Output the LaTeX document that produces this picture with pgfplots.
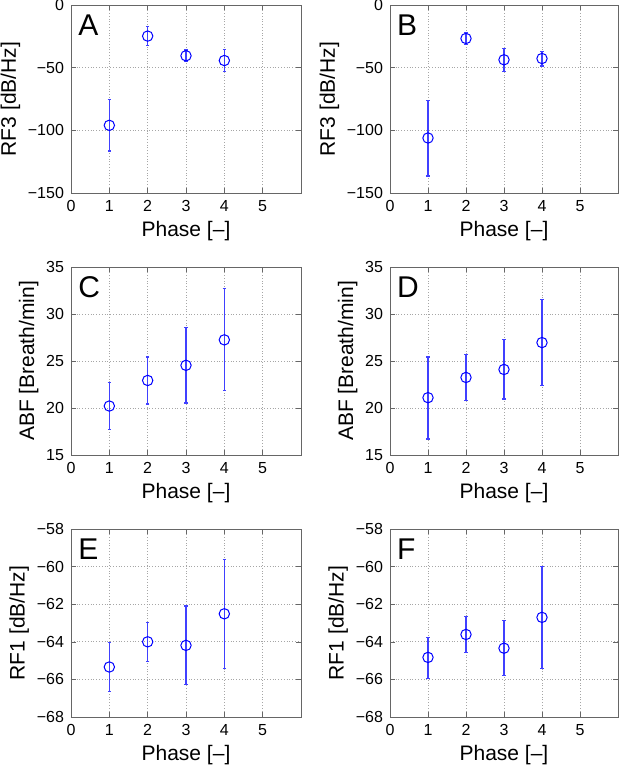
\documentclass[border=0pt]{standalone}
\usepackage{fontspec}
\setmainfont{Liberation Sans}
\usepackage{pgfplots}
\pgfplotsset{compat=1.18}

\pgfplotsset{
  panel/.style={
    scale only axis, width=115pt, height=94pt, anchor=south west,
    xmin=0, xmax=6, xtick={0,1,2,3,4,5},
    grid=major, grid style={densely dotted, gray!70, line width=0.4pt},
    axis line style={black!60},
    tick align=inside, major tick length=2.5pt, tick style={black!60},
    xlabel={Phase [–]},
    ticklabel style={font=\fontsize{8}{9}\selectfont},
    label style={font=\fontsize{10.5}{12}\selectfont},
    xlabel style={yshift=2pt},
    ylabel style={yshift=-3pt},
    /pgf/number format/assume math mode=true,
  },
  pts/.style={blue, only marks, mark=o, mark size=2.6pt, mark options={line width=0.5pt},
    error bars/.cd, y dir=both, y explicit,
    error bar style={line width=0.75pt, blue!75},
    error mark options={blue!75, mark size=0.8pt, rotate=90, line width=0.6pt}},
}
\newcommand{\panel}[1]{\node[anchor=north west, inner sep=0pt, font=\fontsize{15}{16}\selectfont] at (rel axis cs:0.03,0.95) {#1};}

\begin{document}
\begin{tikzpicture}
\useasboundingbox (0,0) rectangle (311pt,-383pt);

% row 1: RF3
\begin{axis}[panel, at={(35.5pt,-96.5pt)},
  ymin=-150, ymax=0, ytick={-150,-100,-50,0}, yticklabels={−150,−100,−50,0},
  ylabel={RF3 [dB/Hz]}]
\addplot+[pts] table[y error plus=ep, y error minus=em] {
x y ep em
1 -96.0 20.5 20.5
2 -24.8 7.4 7.4
3 -40.5 4.6 4.7
4 -44.3 8.7 8.6
};
\panel{A}
\end{axis}
\begin{axis}[panel, at={(195pt,-96.5pt)}, width=114pt,
  ymin=-150, ymax=0, ytick={-150,-100,-50,0}, yticklabels={−150,−100,−50,0},
  ylabel={RF3 [dB/Hz]}]
\addplot+[pts] table[y error plus=ep, y error minus=em] {
x y ep em
1 -106.1 30.1 30.4
2 -26.7 4.6 4.5
3 -43.7 9.0 9.1
4 -42.7 5.5 6.0
};
\panel{B}
\end{axis}

% row 2: ABF
\begin{axis}[panel, at={(35.5pt,-227.5pt)},
  ymin=15, ymax=35, ytick={15,20,25,30,35},
  ylabel={ABF [Breath/min]}]
\addplot+[pts] table[y error plus=ep, y error minus=em] {
x y ep em
1 20.21 2.47 2.53
2 22.93 2.50 2.50
3 24.54 4.03 4.00
4 27.25 5.43 5.39
};
\panel{C}
\end{axis}
\begin{axis}[panel, at={(195pt,-227.5pt)}, width=114pt,
  ymin=15, ymax=35, ytick={15,20,25,30,35},
  ylabel={ABF [Breath/min]}]
\addplot+[pts] table[y error plus=ep, y error minus=em] {
x y ep em
1 21.10 4.33 4.39
2 23.25 2.43 2.43
3 24.10 3.19 3.14
4 26.96 4.58 4.60
};
\panel{D}
\end{axis}

% row 3: RF1
\begin{axis}[panel, at={(35.5pt,-358.5pt)},
  ymin=-68, ymax=-58, ytick={-68,-66,-64,-62,-60,-58},
  yticklabels={−68,−66,−64,−62,−60,−58},
  ylabel={RF1 [dB/Hz]}]
\addplot+[pts] table[y error plus=ep, y error minus=em] {
x y ep em
1 -65.34 1.30 1.32
2 -64.00 1.01 1.04
3 -64.19 2.10 2.08
4 -62.51 2.88 2.90
};
\panel{E}
\end{axis}
\begin{axis}[panel, at={(195pt,-358.5pt)}, width=114pt,
  ymin=-68, ymax=-58, ytick={-68,-66,-64,-62,-60,-58},
  yticklabels={−68,−66,−64,−62,−60,−58},
  ylabel={RF1 [dB/Hz]}]
\addplot+[pts] table[y error plus=ep, y error minus=em] {
x y ep em
1 -64.83 1.05 1.13
2 -63.61 0.94 0.94
3 -64.34 1.48 1.45
4 -62.70 2.70 2.71
};
\panel{F}
\end{axis}
\end{tikzpicture}
\end{document}
